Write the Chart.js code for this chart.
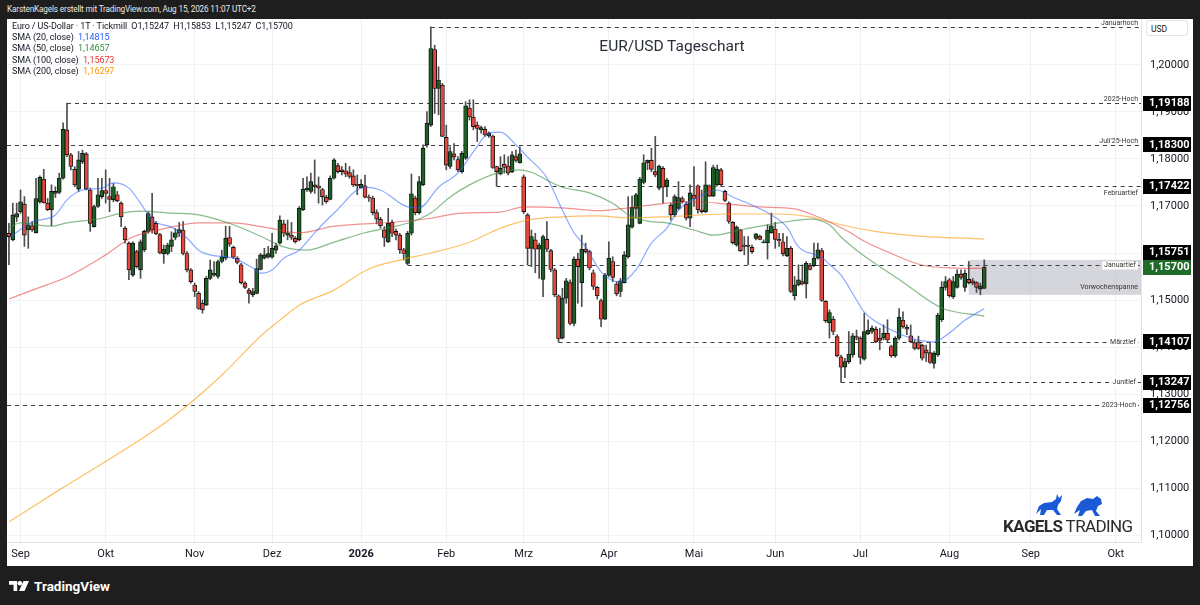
<!DOCTYPE html>
<html lang="de">
<head>
<meta charset="utf-8">
<title>EUR/USD Tageschart</title>
<script src="https://cdn.jsdelivr.net/npm/chart.js@4.4.1/dist/chart.umd.min.js"></script>
<style>
  body { margin: 0; width: 1200px; height: 605px; background: #1e1e1e; overflow: hidden; font-family: Roboto, "Noto Sans", sans-serif; position: relative; }
  #topline { position: absolute; left: 7px; top: 4px; font-size: 8.2px; letter-spacing: -0.15px; color: #e8e8e8; }
  #panel { position: absolute; left: 7px; top: 19px; width: 1186px; height: 547px; background: #fff; }
  #legend { position: absolute; left: 12px; top: 21px; font-size: 9px; letter-spacing: -0.1px; line-height: 11.2px; color: #131722; white-space: pre; }
  #title { position: absolute; left: 0; width: 1344px; top: 37px; text-align: center; font-size: 15.5px; color: #2a2e39; }
  #usd { position: absolute; left: 1146px; top: 20px; width: 42px; height: 16px; border: 1px solid #e0e3eb; border-radius: 3px; background: #fff; font-size: 8.5px; color: #131722; line-height: 16px; box-sizing: border-box; padding-left: 4px; }
  #brand { position: absolute; left: 1003px; top: 516px; font-size: 17px; color: #2b2b2b; letter-spacing: -0.6px; white-space: nowrap; }
  #brand b { font-weight: 700; }
  #brandIcons { position: absolute; left: 1034px; top: 493px; }
  #tv { position: absolute; left: 9px; top: 578px; color: #fff; font-size: 13.5px; font-weight: 700; display: flex; align-items: center; gap: 5px; }
</style>
</head>
<body>
<div id="topline">KarstenKagels erstellt mit TradingView.com, Aug 15, 2026 11:07 UTC+2</div>
<div id="panel"><canvas id="chart" width="1186" height="547"></canvas></div>
<div id="legend"></div>
<div id="title">EUR/USD Tageschart</div>
<div id="usd">USD</div>
<svg id="brandIcons" width="70" height="24" viewBox="0 0 70 24">
  <polygon fill="#1b5ad6" points="2,21 5,13 10,10 18,9 22,6 23,1 25,5 28,2 27,8 24,12 23,16 27,22 23,22 19,17 13,17 10,22 6,22 7,16"/>
  <polygon fill="#1b5ad6" points="40,21 43,14 47,8 53,5 59,6 63,3 67,6 68,11 64,13 62,18 66,23 61,23 58,17 52,18 48,23 44,23 46,17"/>
</svg>
<div id="brand"><b>KAGELS</b> TRADING</div>
<div id="tv">
  <svg width="20" height="12" viewBox="0 0 22 13"><path fill="#fff" d="M0 1h9v11H5V5H0z"/><circle cx="12" cy="3.5" r="2.5" fill="#fff"/><path fill="#fff" d="M16 1h6l-5 11h-6z"/></svg>
  <span>TradingView</span>
</div>

<script>
// Kerzen: [Eröffnung, Hoch, Tief, Schluss], vom 27.08.2025 bis 14.08.2026
const ohlc = [
  [1.1642,1.1663,1.1575,1.1635],[1.1628,1.1706,1.1626,1.1681],[1.1676,1.1706,1.1667,1.1684],[1.1688,1.1734,1.1684,1.1709],
  [1.1704,1.1720,1.1614,1.1638],[1.1649,1.1677,1.1610,1.1660],[1.1658,1.1667,1.1646,1.1649],[1.1643,1.1759,1.1642,1.1716],
  [1.1709,1.1764,1.1706,1.1761],[1.1757,1.1778,1.1706,1.1707],[1.1706,1.1716,1.1690,1.1692],[1.1692,1.1745,1.1658,1.1731],
  [1.1727,1.1741,1.1718,1.1731],[1.1729,1.1770,1.1726,1.1759],[1.1759,1.1877,1.1757,1.1863],[1.1862,1.19188,1.1805,1.1809],
  [1.1809,1.1812,1.1777,1.1784],[1.1778,1.1784,1.1741,1.1745],[1.1736,1.1816,1.1731,1.1798],[1.1794,1.1819,1.1790,1.1812],
  [1.1811,1.1814,1.1734,1.1736],[1.1734,1.1738,1.1646,1.1663],[1.1656,1.1702,1.1655,1.1699],[1.1699,1.1759,1.1697,1.1724],
  [1.1720,1.1759,1.1716,1.1733],[1.1733,1.1777,1.1706,1.1727],[1.1720,1.1759,1.1688,1.1714],[1.1713,1.1748,1.1709,1.1741],
  [1.1724,1.1731,1.1709,1.1711],[1.1706,1.1709,1.1656,1.1677],[1.1653,1.1656,1.1621,1.1628],[1.1621,1.1624,1.1543,1.1564],
  [1.1553,1.1624,1.1550,1.1621],[1.1603,1.1606,1.1568,1.1571],[1.1564,1.1628,1.1546,1.1624],[1.1607,1.1649,1.1603,1.1646],
  [1.1646,1.1688,1.1642,1.1684],[1.1677,1.1727,1.1642,1.1649],[1.1663,1.1667,1.1639,1.1641],[1.1639,1.1642,1.1598,1.1600],
  [1.1598,1.1617,1.1578,1.1608],[1.1599,1.1621,1.1596,1.1617],
  [1.1614,1.1645,1.1603,1.1628],[1.1633,1.1652,1.1628,1.1643],[1.1642,1.1665,1.1635,1.1650],[1.1649,1.1667,1.1596,1.1599],
  [1.1599,1.1603,1.1560,1.1564],[1.1564,1.1567,1.1536,1.1539],[1.1532,1.1536,1.1507,1.1518],[1.1514,1.1518,1.1480,1.1482],
  [1.1493,1.1500,1.1472,1.1479],[1.1489,1.1550,1.1488,1.1546],[1.1546,1.1585,1.1543,1.1564],[1.1553,1.1582,1.1550,1.1557],
  [1.1550,1.1585,1.1546,1.1582],[1.1582,1.1606,1.1579,1.1592],[1.1589,1.1657,1.1585,1.1631],[1.1633,1.1657,1.1614,1.1619],
  [1.1612,1.1615,1.1588,1.1591],[1.1589,1.1592,1.1577,1.1580],[1.1575,1.1578,1.1534,1.1537],[1.1536,1.1539,1.1524,1.1527],
  [1.1521,1.1525,1.1493,1.1514],[1.1511,1.1525,1.1507,1.1518],[1.1514,1.1587,1.1513,1.1567],[1.1565,1.1599,1.1564,1.1596],
  [1.1589,1.1610,1.1587,1.1596],[1.1591,1.1614,1.1589,1.1599],[1.1591,1.1642,1.1589,1.1610],[1.1606,1.1621,1.1599,1.1615],
  [1.1621,1.1679,1.1619,1.1670],[1.1662,1.1670,1.1635,1.1642],[1.1638,1.1670,1.1628,1.1643],[1.1638,1.1665,1.1628,1.1633],
  [1.1631,1.1635,1.1621,1.1624],[1.1628,1.1699,1.1626,1.1695],[1.1692,1.1759,1.1690,1.1736],[1.1734,1.1762,1.1731,1.1738],
  [1.1731,1.1770,1.1727,1.1752],[1.1745,1.1798,1.1727,1.1741],[1.1743,1.1762,1.1706,1.1738],[1.1735,1.1738,1.1702,1.1720],
  [1.1719,1.1723,1.1706,1.1709],[1.1714,1.1764,1.1713,1.1759],[1.1759,1.1801,1.1757,1.1798],
  [1.1786,1.1791,1.1770,1.1773],[1.1777,1.1784,1.1766,1.1773],[1.1775,1.1791,1.1762,1.1768],[1.1771,1.1784,1.1759,1.1763],
  [1.1764,1.1777,1.1741,1.1745],[1.1746,1.1766,1.1724,1.1743],[1.1739,1.1756,1.1738,1.1746],[1.1743,1.1766,1.1717,1.1719],
  [1.1719,1.1724,1.1710,1.1717],[1.1717,1.1721,1.1681,1.1686],[1.1686,1.1692,1.1662,1.1672],[1.1672,1.1676,1.1653,1.1658],
  [1.1649,1.1656,1.1614,1.1633],[1.1624,1.1695,1.1622,1.1663],[1.1665,1.1670,1.1635,1.1642],[1.1646,1.1651,1.1628,1.1638],
  [1.1638,1.1642,1.1599,1.1607],[1.1607,1.1610,1.1585,1.1599],[1.1578,1.1646,1.15751,1.1642],[1.1642,1.1768,1.1638,1.1726],
  [1.1717,1.1721,1.1681,1.1686],[1.1686,1.1763,1.1683,1.1752],[1.1745,1.1830,1.1743,1.1823],[1.1830,1.1901,1.1825,1.1876],
  [1.1872,1.2081,1.1869,1.2035],[1.2033,1.2042,1.1897,1.1950],[1.1950,1.1996,1.1894,1.1968],[1.1957,1.1961,1.1848,1.1848],
  [1.1846,1.1872,1.1777,1.1787],[1.1784,1.1826,1.1780,1.1816],[1.1811,1.1833,1.1798,1.1804],[1.1799,1.1805,1.1773,1.1777],
  [1.1773,1.1816,1.1770,1.1812],[1.1802,1.1922,1.1799,1.1913],[1.1908,1.1926,1.1883,1.1890],[1.1889,1.1926,1.1862,1.1869],
  [1.1872,1.1879,1.1837,1.1865],[1.1862,1.1870,1.1855,1.1867],[1.1863,1.1869,1.1848,1.1851],[1.1849,1.1858,1.1846,1.1855],
  [1.1849,1.1851,1.1780,1.1782],[1.1784,1.1785,1.17422,1.1773],
  [1.1768,1.1805,1.1766,1.1780],[1.1789,1.1809,1.1770,1.1782],[1.1785,1.1805,1.1766,1.1770],[1.1773,1.1816,1.1771,1.1809],
  [1.1805,1.1819,1.1794,1.1797],[1.1792,1.1826,1.1791,1.1811],[1.1762,1.1766,1.1684,1.1688],[1.1681,1.1684,1.1575,1.1610],
  [1.1610,1.1649,1.1571,1.1635],[1.1628,1.1642,1.1558,1.1608],[1.1608,1.1621,1.1546,1.1617],[1.1544,1.1638,1.1507,1.1635],
  [1.1629,1.1667,1.1603,1.1608],[1.1605,1.1608,1.1560,1.1565],[1.1564,1.1567,1.1507,1.1511],[1.1509,1.1511,1.14107,1.1417],
  [1.1419,1.1525,1.1417,1.1504],[1.1504,1.1546,1.1493,1.1541],[1.1537,1.1543,1.1447,1.1450],[1.1450,1.1592,1.1445,1.1587],
  [1.1587,1.1600,1.1493,1.1571],[1.1537,1.1638,1.1486,1.1608],[1.1608,1.1621,1.1600,1.1603],[1.1603,1.1606,1.1564,1.1568],
  [1.1558,1.1564,1.1522,1.1529],[1.1527,1.1529,1.1502,1.1509],[1.1499,1.1502,1.1443,1.1459],[1.1459,1.1557,1.1458,1.1553],
  [1.1553,1.1624,1.1550,1.1589],[1.1582,1.1592,1.1539,1.1548],[1.1534,1.1539,1.1509,1.1513],[1.1518,1.1546,1.1507,1.1541],
  [1.1537,1.1603,1.1536,1.1596],[1.1592,1.1720,1.1589,1.1660],[1.1655,1.1721,1.1653,1.1697],[1.1695,1.1727,1.1674,1.1724],
  [1.1663,1.1761,1.1662,1.1757],[1.1750,1.1809,1.1747,1.1792],[1.1792,1.1798,1.1777,1.1797],[1.1797,1.1823,1.1773,1.1778],
  [1.1773,1.1848,1.1762,1.1766],[1.1738,1.1787,1.1734,1.1785],[1.1780,1.1784,1.1706,1.1740],
  [1.1741,1.1759,1.1720,1.1755],[1.1702,1.1706,1.1670,1.1681],[1.1681,1.1724,1.1677,1.1720],[1.1695,1.1752,1.1692,1.1718],
  [1.1716,1.1720,1.1706,1.1709],[1.1704,1.1709,1.1670,1.1674],[1.1674,1.1745,1.1656,1.1728],[1.1723,1.1784,1.1699,1.1716],
  [1.1743,1.1745,1.1685,1.1692],[1.1692,1.1734,1.1685,1.1688],[1.1688,1.1794,1.1686,1.1745],[1.1743,1.1745,1.1720,1.1721],
  [1.1721,1.1787,1.1720,1.1782],[1.1745,1.1787,1.1743,1.1778],[1.1777,1.1780,1.1743,1.1745],[1.1731,1.1734,1.1709,1.1712],
  [1.1706,1.1709,1.1663,1.1667],[1.1665,1.1667,1.1619,1.1622],[1.1617,1.1658,1.1614,1.1655],[1.1649,1.1651,1.1603,1.1605],
  [1.1617,1.1635,1.1596,1.1614],[1.1617,1.1635,1.1575,1.1614],[1.1612,1.1617,1.1599,1.1603],[1.1631,1.1642,1.1628,1.1641],
  [1.1636,1.1638,1.1628,1.1629],[1.1622,1.1628,1.1621,1.1624],[1.1622,1.1660,1.1587,1.1649],[1.1643,1.1685,1.1642,1.1658],
  [1.1651,1.1665,1.1610,1.1629],[1.1629,1.1642,1.1614,1.1626],[1.1624,1.1642,1.1594,1.1598],[1.1594,1.1635,1.1592,1.1610],
  [1.1610,1.1614,1.1516,1.1518],[1.1509,1.1550,1.1500,1.1532],[1.1532,1.1575,1.1530,1.1543],[1.1539,1.1575,1.1532,1.1534],
  [1.1534,1.1582,1.1504,1.1578],[1.1573,1.1578,1.1564,1.1565],[1.1573,1.1621,1.1571,1.1589],[1.1589,1.1621,1.1587,1.1607],
  [1.1605,1.1610,1.1497,1.1499],[1.1497,1.1499,1.1452,1.1456],[1.1452,1.1479,1.1419,1.1473],
  [1.1459,1.1465,1.1426,1.1433],[1.1422,1.1426,1.1379,1.1381],[1.1379,1.1383,1.13247,1.1357],[1.1357,1.1376,1.1335,1.1369],
  [1.1369,1.1433,1.1365,1.1385],[1.1383,1.1429,1.1378,1.1424],[1.1422,1.1436,1.1415,1.1419],[1.1419,1.1422,1.1364,1.1378],
  [1.1374,1.1472,1.1372,1.1433],[1.1428,1.1458,1.1426,1.1436],[1.1433,1.1445,1.1429,1.1440],[1.1438,1.1443,1.1409,1.1411],
  [1.1419,1.1440,1.1394,1.1414],[1.1419,1.1447,1.1415,1.1429],[1.1429,1.1458,1.1411,1.1415],[1.1401,1.1404,1.1378,1.1381],
  [1.1381,1.1422,1.1378,1.1419],[1.1419,1.1482,1.1415,1.1463],[1.1457,1.1475,1.1440,1.1443],[1.1442,1.1447,1.1426,1.1438],
  [1.1424,1.1447,1.1409,1.1411],[1.1409,1.1415,1.1394,1.1397],[1.1411,1.1423,1.1395,1.1397],[1.1404,1.1406,1.1372,1.1376],
  [1.1394,1.1404,1.1369,1.1387],[1.1388,1.1409,1.1365,1.1367],[1.1365,1.1390,1.1355,1.1387],[1.1383,1.1472,1.1380,1.1468],
  [1.1458,1.1539,1.1454,1.1527],[1.1527,1.1550,1.1521,1.1539],[1.1543,1.1546,1.1506,1.1509],[1.1507,1.1550,1.1503,1.1539],
  [1.1527,1.1564,1.1525,1.1555],[1.1555,1.1564,1.1544,1.1548],[1.1527,1.1564,1.1518,1.1557],[1.1544,1.1582,1.1534,1.1537],
  [1.1541,1.1546,1.1532,1.1536],[1.1537,1.1539,1.1516,1.1527],[1.1523,1.1536,1.1511,1.1530],[1.15247,1.15853,1.15247,1.15700]
];

// gleitende Durchschnitte: [Kerzen-Nr., Wert]
const sma20 = [[0,1.1632],[6,1.1666],[12,1.1681],[15,1.1713],[19,1.1734],[24,1.1738],[27,1.1749],[31,1.1738],[34,1.1706],[37,1.1670],
  [42,1.1655],[46,1.1632],[49,1.1606],[52,1.1596],[58,1.1589],[63,1.1568],[65,1.1557],[68,1.1564],[71,1.1589],[75,1.1606],[79,1.1643],
  [84,1.1685],[92,1.1740],[96,1.1734],[103,1.1698],[106,1.1696],[111,1.1740],[116,1.1770],[120,1.1815],[124,1.1855],[127,1.1857],
  [131,1.1830],[134,1.1804],[139,1.1760],[143,1.1691],[146,1.1643],[149,1.1613],[153,1.1560],[158,1.1538],[162,1.1564],[166,1.1621],
  [170,1.1653],[173,1.1691],[179,1.1723],[183,1.1734],[187,1.1719],[192,1.1702],[197,1.1681],[201,1.1655],[204,1.1613],[210,1.1591],
  [212,1.1576],[215,1.1553],[219,1.1500],[221,1.1474],[228,1.1436],[233,1.1419],[239,1.1411],[243,1.1430],[247,1.1457],[252,1.14815]];
const sma50 = [[0,1.1655],[3,1.1664],[11,1.1657],[15,1.1664],[24,1.1674],[29,1.1685],[34,1.1689],[42,1.1685],[49,1.1681],[58,1.1660],
  [66,1.1632],[71,1.1613],[77,1.1606],[84,1.1623],[92,1.1643],[104,1.1666],[109,1.1685],[114,1.1719],[119,1.1745],[127,1.1772],
  [132,1.1777],[143,1.1740],[150,1.1728],[156,1.1706],[160,1.1682],[165,1.1668],[170,1.1664],[177,1.1649],[182,1.1638],[190,1.1651],
  [199,1.1664],[207,1.1672],[212,1.1660],[215,1.1634],[219,1.1606],[231,1.1538],[241,1.1483],[252,1.14657]];
const sma100 = [[0,1.1502],[6,1.1521],[15,1.1549],[24,1.1591],[32,1.1634],[42,1.1655],[49,1.1664],[58,1.1664],[66,1.1655],[75,1.1643],
  [84,1.1657],[100,1.1666],[109,1.1674],[117,1.1685],[127,1.1687],[133,1.1698],[143,1.1696],[152,1.1690],[160,1.1696],[170,1.1706],
  [177,1.1709],[186,1.1704],[194,1.1698],[203,1.1694],[209,1.1677],[212,1.1666],[217,1.1645],[221,1.1625],[226,1.1606],[236,1.1574],
  [245,1.1568],[252,1.15673]];
const sma200 = [[0,1.1028],[13,1.1096],[29,1.1177],[42,1.1249],[55,1.1340],[65,1.1423],[70,1.1457],[75,1.1489],[84,1.1521],[93,1.1566],
  [101,1.1585],[109,1.1600],[119,1.1623],[127,1.1653],[134,1.1670],[143,1.1677],[152,1.1679],[160,1.1675],[170,1.1677],[186,1.1683],
  [199,1.1683],[207,1.1677],[212,1.1666],[223,1.1647],[235,1.1636],[245,1.1632],[252,1.16297]];

// Marken (gestrichelte Linien)
const levelNames = ['Januarhoch', '2025-Hoch', "Juli'25-Hoch", 'Februartief', 'Januartief', 'Märztief', 'Junitief', '2023-Hoch'];
const levelPrices = [1.2081, 1.19188, 1.18300, 1.17422, 1.15751, 1.14107, 1.13247, 1.12756];
const levelStarts = [109, 15, null, 126, 103, 142, 215, null];

const weekRange = [1.1511, 1.15853];
const weekStart = 248;

const firstDay = '2025-08-27';
const totalBars = 293;
const monthNames = ['Jan', 'Feb', 'Mrz', 'Apr', 'Mai', 'Jun', 'Jul', 'Aug', 'Sep', 'Okt', 'Nov', 'Dez'];

const yMin = 1.098511, yMax = 1.209787;

function businessDays(start, n) {
  const out = [];
  const d = new Date(start + 'T12:00:00Z');
  while (out.length < n) {
    const wd = d.getUTCDay();
    if (wd !== 0 && wd !== 6) out.push(d.toISOString().slice(0, 10));
    d.setUTCDate(d.getUTCDate() + 1);
  }
  return out;
}
const labels = businessDays(firstDay, totalBars);

const fmt = (v) => v.toFixed(5).replace('.', ',');
const bull = '#1e5e27', bear = '#e4473c';

function monthLabel(i) {
  if (i === 0) return null;
  const cur = labels[i], prev = labels[i - 1];
  if (cur.slice(5, 7) === prev.slice(5, 7)) return null;
  const m = +cur.slice(5, 7);
  return m === 1 ? cur.slice(0, 4) : monthNames[m - 1];
}

// Legende
const last = ohlc[ohlc.length - 1];
const smaLegend = [['20', sma20, '#2962ff'], ['50', sma50, '#388e3c'], ['100', sma100, '#e53935'], ['200', sma200, '#ff9800']];
let html = `Euro / US-Dollar · 1T · Tickmill  O${fmt(last[0])}  H${fmt(last[1])}  L${fmt(last[2])}  C${fmt(last[3])}`;
smaLegend.forEach(([n, arr, c]) => {
  html += `\nSMA (${n}, close)  <span style="color:${c}">${fmt(arr[arr.length - 1][1])}</span>`;
});
document.getElementById('legend').innerHTML = html;

const toPoints = (arr) => arr.map(([i, v]) => ({ x: labels[i], y: v }));

const overlay = {
  id: 'overlay',
  beforeDatasetsDraw(chart) {
    const { ctx, chartArea: a, scales: { x, y } } = chart;
    ctx.save();
    // Vorwochenspanne
    const x0 = x.getPixelForValue(weekStart);
    const yTop = y.getPixelForValue(weekRange[1]);
    const yBot = y.getPixelForValue(weekRange[0]);
    ctx.fillStyle = 'rgba(178,181,190,0.55)';
    ctx.fillRect(x0, yTop, a.right - x0, yBot - yTop);
    ctx.fillStyle = '#333';
    ctx.font = '7px Roboto';
    ctx.textAlign = 'right';
    ctx.textBaseline = 'middle';
    ctx.fillText('Vorwochenspanne', a.right - 3, yBot - 8);
    // Linien
    ctx.strokeStyle = '#3d3f47';
    ctx.lineWidth = 1;
    ctx.setLineDash([4, 4]);
    levelPrices.forEach((p, i) => {
      const yy = Math.round(y.getPixelForValue(p)) + 0.5;
      const xs = levelStarts[i] == null ? a.left : x.getPixelForValue(levelStarts[i]);
      ctx.beginPath();
      ctx.moveTo(xs, yy);
      ctx.lineTo(a.right, yy);
      ctx.stroke();
    });
    ctx.restore();
  },
  afterDatasetsDraw(chart) {
    const { ctx, chartArea: a, scales: { y } } = chart;
    ctx.save();
    ctx.font = '7px Roboto';
    ctx.textAlign = 'right';
    ctx.fillStyle = '#333';
    levelPrices.forEach((p, i) => {
      const yy = Math.round(y.getPixelForValue(p)) + 0.5;
      const name = levelNames[i];
      if (i <= 2) {
        ctx.textBaseline = 'alphabetic';
        ctx.fillText(name, a.right - 3, yy - 3);
      } else if (i === 3) {
        ctx.textBaseline = 'top';
        ctx.fillText(name, a.right - 3, yy + 3);
      } else {
        const w = ctx.measureText(name).width;
        ctx.fillStyle = '#fff';
        ctx.fillRect(a.right - 7 - w, yy - 4, w + 4, 8);
        ctx.fillStyle = '#333';
        ctx.textBaseline = 'middle';
        ctx.fillText(name, a.right - 5, yy);
      }
    });
    ctx.restore();
  },
  afterDraw(chart) {
    const { ctx, chartArea: a, scales: { y }, width } = chart;
    const cur = ohlc[ohlc.length - 1][3];
    const yCur = y.getPixelForValue(cur);
    const box = (yy, text, color) => {
      ctx.fillStyle = color;
      ctx.fillRect(a.right + 2, Math.round(yy - 7.5), width - a.right - 4, 15);
      ctx.fillStyle = '#fff';
      ctx.font = 'bold 11px Roboto';
      ctx.textAlign = 'left';
      ctx.textBaseline = 'middle';
      ctx.fillText(text, a.right + 8, Math.round(yy) + 0.5);
    };
    ctx.save();
    levelPrices.forEach((p, i) => {
      if (i === 0) return;
      let yy = y.getPixelForValue(p);
      if (Math.abs(yy - yCur) < 15) yy = yCur - 15;
      box(yy, fmt(p), '#000');
    });
    box(yCur, fmt(cur), '#1f6b2a');
    ctx.restore();
  }
};

new Chart(document.getElementById('chart'), {
  data: {
    labels,
    datasets: [
      { type: 'line', data: toPoints(sma20), borderColor: 'rgba(41,98,255,0.55)', borderWidth: 1.2, pointRadius: 0, cubicInterpolationMode: 'monotone' },
      { type: 'line', data: toPoints(sma50), borderColor: 'rgba(56,142,60,0.6)', borderWidth: 1.2, pointRadius: 0, cubicInterpolationMode: 'monotone' },
      { type: 'line', data: toPoints(sma100), borderColor: 'rgba(229,57,53,0.55)', borderWidth: 1.2, pointRadius: 0, cubicInterpolationMode: 'monotone' },
      { type: 'line', data: toPoints(sma200), borderColor: 'rgba(255,152,0,0.6)', borderWidth: 1.2, pointRadius: 0, cubicInterpolationMode: 'monotone' },
      {
        type: 'bar',
        data: ohlc.map((r) => [r[0], r[3]]),
        backgroundColor: ohlc.map((r) => (r[3] >= r[0] ? bull : bear)),
        borderColor: '#111',
        borderWidth: 0.9,
        borderSkipped: false,
        barThickness: 4,
        grouped: false
      },
      {
        type: 'bar',
        data: ohlc.map((r) => [r[2], r[1]]),
        backgroundColor: '#4d4d4d',
        barThickness: 1,
        grouped: false
      }
    ]
  },
  options: {
    responsive: false,
    animation: false,
    events: [],
    layout: { padding: 0 },
    plugins: { legend: { display: false }, tooltip: { enabled: false } },
    scales: {
      x: {
        type: 'category',
        offset: true,
        grid: { color: '#eef0f4', drawTicks: false, offset: false },
        border: { display: true, color: '#e0e3eb' },
        ticks: {
          autoSkip: false,
          maxRotation: 0,
          padding: 6,
          color: '#131722',
          font: (c) => ({ size: 11, family: 'Roboto', weight: c.tick && c.tick.label === '2026' ? 'bold' : 'normal' }),
          callback: (value) => monthLabel(value)
        },
        afterFit(scale) {
          scale.height = 24;
          scale.paddingLeft = 0;
          scale.paddingRight = 0;
        }
      },
      y: {
        position: 'right',
        min: yMin,
        max: yMax,
        grid: { color: '#f0f2f6', drawTicks: false },
        border: { display: true, color: '#e0e3eb' },
        ticks: {
          stepSize: 0.01,
          includeBounds: false,
          padding: 9,
          color: '#131722',
          font: { size: 11, family: 'Roboto' },
          callback: (v) => fmt(v)
        },
        afterFit(scale) {
          scale.width = 52;
          scale.paddingTop = 0;
          scale.paddingBottom = 0;
        }
      }
    }
  },
  plugins: [overlay]
});
</script>
</body>
</html>
